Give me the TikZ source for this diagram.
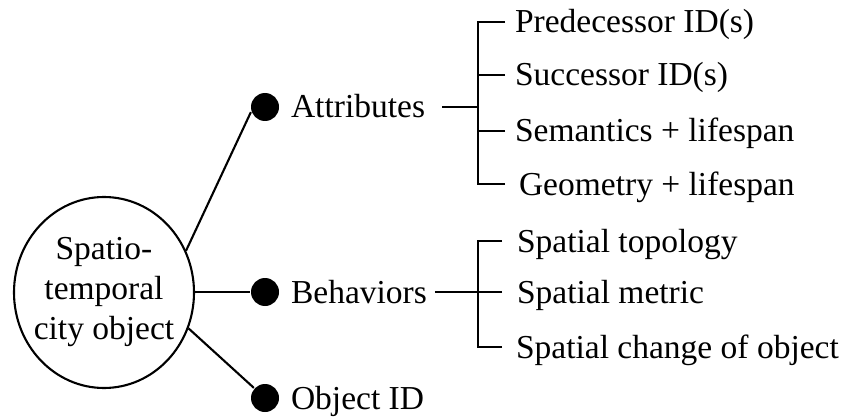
\documentclass[tikz,border=0pt]{standalone}
\usepackage{fontspec}
\usetikzlibrary{shapes.geometric}
\setmainfont{Liberation Serif}
\begin{document}
\begin{tikzpicture}[x=1pt,y=-1pt,
  line width=2.1pt,
  every node/.style={font=\fontsize{33.5}{40}\selectfont},
  bigcircle/.style={ellipse, draw, line width=2.1pt, minimum width=180pt, minimum height=191pt, inner sep=0pt},
  bullet/.style={circle, fill, minimum size=28pt, inner sep=0pt},
  lbl/.style={anchor=west, text height=22pt, text depth=0pt, inner xsep=0pt, inner ysep=0pt}]
\useasboundingbox (0,0) rectangle (843,417);

% central object: outline and its caption
\node[bigcircle] (obj) at (104,292.5) {};
\node[align=center, inner sep=0pt] (objtext) at (obj.center) {Spatio-\\temporal\\city object};

% first-level branches
\node[bullet] (b1) at (265,107) {};
\node[bullet] (b2) at (265,292) {};
\node[bullet] (b3) at (265,398) {};
\node[lbl] (l1) at (290,107) {Attributes};
\node[lbl] (l2) at (290,292) {Behaviors};
\node[lbl] (l3) at (290,398) {Object ID};

\draw (obj.27) -- (b1.200);
\draw (obj.east |- b2) -- (b2);
\draw (obj.-23) -- (b3);

% attribute items
\coordinate (abr) at (478,107);
\node[lbl] (p1) at (514,22) {Predecessor ID(s)};
\node[lbl] (p2) at (514,75) {Successor ID(s)};
\node[lbl] (p3) at (514,131) {Semantics + lifespan};
\node[lbl] (p4) at (518,184) {Geometry + lifespan};

\draw ([xshift=16pt]l1.east) -- (abr);
\draw ([xshift=-9pt]p1.west) -| (abr);
\draw ([xshift=-13pt]p4.west) -| (abr);
\draw ([xshift=-9pt]p2.west) -- (p2.west -| abr);
\draw ([xshift=-9pt]p3.west) -- (p3.west -| abr);

% behavior items
\coordinate (bbr) at (478,292);
\node[lbl] (q1) at (516,241) {Spatial topology};
\node[lbl] (q2) at (516,292) {Spatial metric};
\node[lbl] (q3) at (515,347) {Spatial change of object};

\draw ([xshift=7pt]l2.east) -- (bbr);
\draw ([xshift=-14pt]q1.west) -| (bbr);
\draw ([xshift=-13pt]q3.west) -| (bbr);
\draw ([xshift=-14pt]q2.west) -- (bbr);
\end{tikzpicture}
\end{document}
